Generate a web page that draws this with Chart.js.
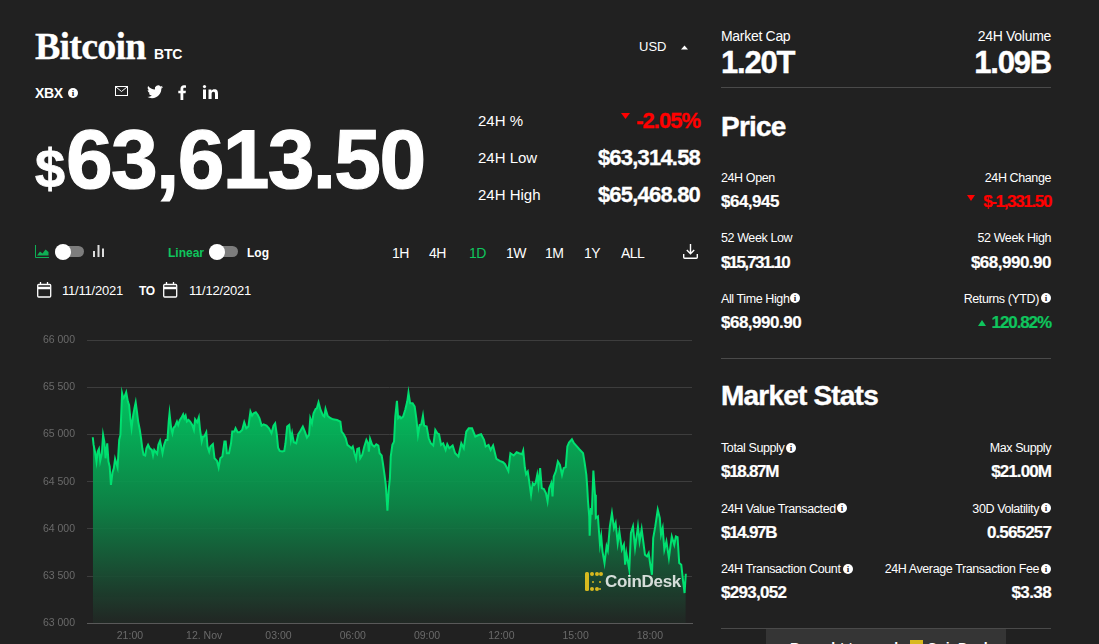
<!DOCTYPE html>
<html>
<head>
<meta charset="utf-8">
<title>Bitcoin BTC</title>
<script src="https://cdn.jsdelivr.net/npm/chart.js@4"></script>
<style>
  html, body { margin: 0; padding: 0; background: #212121; overflow: hidden; }
  body { width: 1099px; height: 644px; position: relative; color: #fff; font-family: "Liberation Sans", Arial, sans-serif; }
  .t { position: absolute; white-space: nowrap; line-height: 1; }
  .r { text-align: right; }
  .lab { font-size: 12.5px; letter-spacing: -0.4px; }
  .top { font-size: 14px; letter-spacing: -0.3px; }
  .val { font-size: 17px; font-weight: bold; letter-spacing: -0.5px; -webkit-text-stroke: 0.2px; }
  .sub { font-size: 22px; font-weight: bold; letter-spacing: -0.8px; -webkit-text-stroke: 0.3px; }
  .mid { font-size: 15px; }
  .rng { font-size: 14px; letter-spacing: -0.5px; }
  .big { font-size: 31px; font-weight: bold; letter-spacing: -1.2px; -webkit-text-stroke: 0.4px; }
  .head { font-size: 28px; font-weight: bold; letter-spacing: -0.8px; -webkit-text-stroke: 0.4px; }
  .red { color: #ff0000; }
  .grn { color: #0fc55d; }
  .hr { position: absolute; height: 1px; background: #4a4a4a; left: 721px; width: 330px; }
  svg { position: absolute; overflow: visible; }
  #wrap { position: absolute; left: 0; top: 322px; width: 699px; height: 322px; }
  .i { position: absolute; width: 10px; height: 10px; border-radius: 50%; background: #fff; color: #212121; font: bold 9px/10px "Liberation Serif", serif; text-align: center; }
  .knob { position: absolute; width: 16px; height: 16px; border-radius: 50%; background: #fff; }
  .track { position: absolute; width: 29px; height: 11px; border-radius: 6px; background: #7d7d7d; }
</style>
</head>
<body>

<div class="t" style="left:35px;top:27px;font:bold 38px/1 'Liberation Serif',serif;letter-spacing:-0.8px;-webkit-text-stroke:0.3px">Bitcoin</div>
<div class="t" style="left:154px;top:47px;font-size:14px;font-weight:bold;letter-spacing:-0.2px">BTC</div>
<div class="t" style="left:35px;top:86px;font-size:14px;font-weight:bold;letter-spacing:-0.4px">XBX</div>
<div class="i" style="left:68px;top:88px">i</div>

<svg style="left:115px;top:86px" width="13" height="11"><rect x=".5" y=".5" width="12" height="9" fill="none" stroke="#fff"/><path d="M1 1l5.500 4.500L12 1" fill="none" stroke="#fff"/></svg>
<svg style="left:147px;top:85px" width="16" height="14" viewBox="0 0 24 20"><path fill="#fff" d="M24 2.400c-.9.4-1.800.7-2.800.8 1-.6 1.800-1.600 2.200-2.700-1 .6-2 1-3.100 1.200A4.900 4.900 0 0 0 11.900 6.200C7.800 6 4.200 4 1.700.9c-1.300 2.200-.7 5.100 1.500 6.600-.8 0-1.600-.2-2.200-.6 0 2.300 1.700 4.400 4 4.900-.7.2-1.500.2-2.200.1.600 2 2.500 3.400 4.600 3.400A9.900 9.900 0 0 1 0 17.300 14 14 0 0 0 7.500 19.500c9.100 0 14.300-7.700 14-14.600 1-.7 1.800-1.600 2.500-2.500z"/></svg>
<svg style="left:178px;top:85px" width="9" height="15" viewBox="0 0 9 15"><path fill="#fff" d="M2.500 15V8.300H.3V5.700h2.200V3.800C2.500 1.500 3.900.3 5.900.3c1 0 1.800.1 2.100.1v2.300H6.600c-1.100 0-1.300.5-1.300 1.300v1.700h2.600l-.3 2.600H5.300V15z"/></svg>
<svg style="left:203px;top:85px" width="16" height="14" viewBox="0 0 16 14"><rect x="0" y="4.500" width="3" height="9.500" fill="#fff"/><circle cx="1.500" cy="1.600" r="1.600" fill="#fff"/><path fill="#fff" d="M5.500 4.500h2.900v1.300c.5-.9 1.600-1.500 3-1.500 3 0 3.600 1.900 3.600 4.500V14h-3V9.300c0-1.100 0-2.500-1.500-2.500s-1.900 1.200-1.900 2.400V14H5.500z"/></svg>

<div class="t" style="left:35px;top:141px;font-size:54px;font-weight:bold;-webkit-text-stroke:0.8px">$</div>
<div class="t" style="left:66px;top:117px;font-size:84px;font-weight:bold;letter-spacing:-1.700px;-webkit-text-stroke:1.200px">63,613.50</div>

<div class="t" style="left:639px;top:40px;font-size:13px">USD</div>
<svg style="left:681px;top:45px" width="7" height="5"><path d="M0 4.500L3.500 .5 7 4.500z" fill="#fff"/></svg>

<div class="t mid" style="left:478px;top:113px">24H %</div>
<svg style="left:621px;top:113px" width="9" height="6"><path d="M0 0h9L4.500 6z" fill="#ff0000"/></svg>
<div class="t r red sub" style="right:399px;top:110px;letter-spacing:-1px">-2.05%</div>
<div class="t mid" style="left:478px;top:150px">24H Low</div>
<div class="t r sub" style="right:399px;top:147px">$63,314.58</div>
<div class="t mid" style="left:478px;top:187px">24H High</div>
<div class="t r sub" style="right:399px;top:184px">$65,468.80</div>

<svg style="left:35px;top:245px" width="14" height="13"><path d="M.5 0v12.500H14" fill="none" stroke="#0fb055"/><path d="M2 10.500l3-4 2.500 2 3-4 3 2.500v3.500z" fill="#0fb055"/></svg>
<div class="track" style="left:55px;top:246px"></div>
<div class="knob" style="left:55px;top:244px"></div>
<svg style="left:93px;top:245px" width="11" height="12"><rect x="0" y="6" width="2" height="6" fill="#ddd"/><rect x="4.500" y="0" width="2" height="12" fill="#ddd"/><rect x="9" y="3.500" width="2" height="8.500" fill="#ddd"/></svg>
<div class="t grn" style="left:168px;top:247px;font-size:12px;font-weight:bold">Linear</div>
<div class="track" style="left:209px;top:246px"></div>
<div class="knob" style="left:209px;top:244px"></div>
<div class="t" style="left:247px;top:247px;font-size:12px;font-weight:bold">Log</div>

<div id="ranges"></div>
<svg style="left:683px;top:244px" width="15" height="15" fill="none" stroke="#fff" stroke-width="1.400"><path d="M7.500 0v9.500M3.800 6l3.700 3.700L11.200 6M.7 10v3.300q0 1 1 1h11.600q1 0 1-1V10"/></svg>

<svg style="left:37px;top:282px" width="14" height="16" fill="none" stroke="#fff" stroke-width="1.300"><rect x=".7" y="2.500" width="13" height="12.500" rx="1"/><path d="M3.500 0v3M10.500 0v3"/><path d="M1 6h12" stroke-width="2.500"/></svg>
<div class="t" style="left:62px;top:284px;font-size:13px;letter-spacing:-0.2px">11/11/2021</div>
<div class="t" style="left:139px;top:285px;font-size:12px;font-weight:bold;letter-spacing:-0.4px">TO</div>
<svg style="left:163px;top:282px" width="14" height="16" fill="none" stroke="#fff" stroke-width="1.300"><rect x=".7" y="2.500" width="13" height="12.500" rx="1"/><path d="M3.500 0v3M10.500 0v3"/><path d="M1 6h12" stroke-width="2.500"/></svg>
<div class="t" style="left:189px;top:284px;font-size:13px;letter-spacing:-0.2px">11/12/2021</div>

<div id="wrap"><canvas id="grafico"></canvas></div>

<svg style="left:585px;top:572px" width="18" height="20" fill="#d8b91f"><rect x="0" y="0" width="4" height="19" rx="1.500"/><circle cx="7" cy="2" r="2"/><circle cx="12" cy="2" r="2"/><circle cx="16" cy="2" r="2"/><circle cx="7" cy="17" r="2"/><circle cx="12" cy="17" r="2"/><circle cx="8" cy="10" r="1"/><circle cx="15" cy="10" r="1"/><circle cx="15" cy="17" r="1"/></svg>
<div class="t" style="left:605px;top:573px;font-size:17px;font-weight:bold;letter-spacing:-0.300px;color:rgba(255,255,255,.82)">CoinDesk</div>

<div class="t top" style="left:721px;top:29px">Market Cap</div>
<div class="t top r" style="right:48px;top:29px">24H Volume</div>
<div class="t big" style="left:721px;top:47px">1.20T</div>
<div class="t big r" style="right:48px;top:47px">1.09B</div>
<div class="hr" style="top:87px"></div>

<div class="t head" style="left:721px;top:113px">Price</div>

<div class="t lab" style="left:721px;top:172px">24H Open</div>
<div class="t val" style="left:721px;top:193px">$64,945</div>
<div class="t lab r" style="right:48px;top:172px">24H Change</div>
<svg style="left:967px;top:195px" width="8" height="6"><path d="M0 0h8L4 6z" fill="#ff0000"/></svg>
<div class="t val r red" style="right:48px;top:193px;letter-spacing:-1.350px">$-1,331.50</div>

<div class="t lab" style="left:721px;top:232px">52 Week Low</div>
<div class="t val" style="left:721px;top:254px;letter-spacing:-1.700px">$15,731.10</div>
<div class="t lab r" style="right:48px;top:232px">52 Week High</div>
<div class="t val r" style="right:48px;top:254px">$68,990.90</div>

<div class="t lab" style="left:721px;top:293px">All Time High</div>
<div class="i" style="left:790px;top:293px">i</div>
<div class="t val" style="left:721px;top:314px">$68,990.90</div>
<div class="t lab r" style="right:60px;top:293px">Returns (YTD)</div>
<div class="i" style="left:1041px;top:293px">i</div>
<svg style="left:978px;top:320px" width="8" height="6"><path d="M0 6h8L4 0z" fill="#0fc55d"/></svg>
<div class="t val r grn" style="right:48px;top:314px;letter-spacing:-1.100px">120.82%</div>

<div class="hr" style="top:358px"></div>

<div class="t head" style="left:721px;top:382px">Market Stats</div>

<div class="t lab" style="left:721px;top:442px">Total Supply</div>
<div class="i" style="left:786px;top:443px">i</div>
<div class="t val" style="left:721px;top:463px;letter-spacing:-1.300px">$18.87M</div>
<div class="t lab r" style="right:48px;top:442px">Max Supply</div>
<div class="t val r" style="right:48px;top:463px;letter-spacing:-0.900px">$21.00M</div>

<div class="t lab" style="left:721px;top:503px">24H Value Transacted</div>
<div class="i" style="left:837px;top:503px">i</div>
<div class="t val" style="left:721px;top:524px;letter-spacing:-1.300px">$14.97B</div>
<div class="t lab r" style="right:60px;top:503px">30D Volatility</div>
<div class="i" style="left:1041px;top:503px">i</div>
<div class="t val r" style="right:48px;top:524px;letter-spacing:-0.850px">0.565257</div>

<div class="t lab" style="left:721px;top:563px">24H Transaction Count</div>
<div class="i" style="left:843px;top:564px">i</div>
<div class="t val" style="left:721px;top:584px;letter-spacing:-0.700px">$293,052</div>
<div class="t lab r" style="right:60px;top:563px">24H Average Transaction Fee</div>
<div class="i" style="left:1041px;top:564px">i</div>
<div class="t val r" style="right:48px;top:584px;letter-spacing:-0.600px">$3.38</div>

<div class="hr" style="top:628px"></div>
<div style="position:absolute;left:766px;top:629px;width:240px;height:15px;background:#353535"></div>
<div class="t" style="left:790px;top:641px;font-size:14px;font-weight:bold">Brought to you by</div>
<div style="position:absolute;left:910px;top:640px;width:13px;height:4px;background:#d8b91f"></div>
<div class="t" style="left:927px;top:641px;font-size:14px;font-weight:bold">CoinDesk</div>

<script>
const rangeLabels = ["1H", "4H", "1D", "1W", "1M", "1Y", "ALL"];
const rangeLefts = [392, 429, 469, 506, 545, 584, 621];
const yTicks = [63000, 63500, 64000, 64500, 65000, 65500, 66000];
const xTicks = [1260, 1440, 1620, 1800, 1980, 2160, 2340, 2520];
const xTickLabels = ["21:00", "12. Nov", "03:00", "06:00", "09:00", "12:00", "15:00", "18:00"];

// minutes counted from 00:00 on 11 Nov
const minutos = [
  1170,1172,1176,1179,1182,1185,1188,1192,1195,1198,1201,1205,1208,1211,1214,1218,1221,1224,1227,1230,
  1234,1237,1241,1244,1247,1251,1255,1258,1261,1264,1268,1271,1274,1277,1280,1284,1287,1290,1293,1297,
  1300,1304,1308,1313,1316,1319,1322,1326,1329,1333,1336,1339,1343,1347,1351,1354,1356,1360,1363,1366,
  1369,1374,1377,1381,1385,1389,1392,1395,1398,1402,1406,1411,1415,1418,1423,1427,1430,1434,1437,1440,
  1445,1448,1452,1455,1461,1465,1471,1475,1479,1484,1489,1492,1495,1500,1505,1508,1513,1516,1521,
  1526,1532,1537,1542,1547,1552,1556,1560,1565,1570,1574,1579,1584,1591,1597,1603,1608,1612,1616,1619,
  1623,1629,1634,1637,1641,1646,1650,1653,1657,1663,1668,1673,1679,1684,1689,1694,1697,1701,1705,1710,
  1713,1717,1722,1728,1731,1734,1739,1744,1752,1762,1770,1773,1778,1783,1787,1792,1797,1800,1804,1808,
  1811,1815,1818,1823,1828,1833,1837,1839,1842,1847,1852,1857,1862,1865,1870,1873,
  1877,1880,1884,1887,1890,1892,1896,1900,1903,1907,1910,1914,1917,1922,1927,1932,1935,1939,1945,1950,
  1954,1958,1962,1966,1970,1973,1979,1984,1989,1995,2000,2005,2009,2014,2019,2025,2029,2034,2042,2048,
  2056,2063,2069,2075,2081,2089,2097,2105,2111,2118,2122,2129,2134,2140,2148,2156,2164,2169,2177,2182,
  2190,2197,2203,2210,2213,2217,2220,2224,2227,2232,2236,2240,
  2243,2247,2250,2254,2258,2263,2268,2272,2276,2281,2284,2287,2292,2297,2302,2307,2311,2316,2320,2324,
  2331,2336,2342,2349,2358,2362,2366,2368,2370,2373,2374,2377,2379,2383,2387,2389,2394,2399,2402,2405,
  2410,2415,2418,2423,2428,2433,2437,2442,2446,2452,2457,2460,2463,2470,2474,2479,2484,2491,2495,2500,
  2508,2513,2517,2521,2525,2528,2533,2539,2544,2547,2551,2555,2560,2566,2573,2579,2583,2587,2591,2596,
  2600,2604,2607
];
const precios = [
  64972,64891,64802,64714,64820,64848,64721,64802,64997,64926,64749,64908,64714,64661,64467,64601,64643,64742,64696,64651,
  64944,64997,65438,65385,65402,65448,65350,65314,65173,65067,65208,65279,65342,65244,65138,65049,64961,64855,64785,64778,
  64855,64891,64855,64838,64778,64838,64820,64795,64891,64933,64873,64802,64891,64944,64944,65138,65226,65067,65014,65074,
  65085,65138,65102,65155,65180,65215,65173,65201,65138,65155,65138,65102,65049,65162,65131,65184,65049,64926,64979,64979,
  65025,64873,64820,64873,64898,64749,64721,64651,64749,64767,64926,64926,64802,64802,64908,65032,65032,65067,65025,
  65025,65049,65131,65067,65085,65244,65201,65226,65237,65208,65173,65095,65109,65095,65067,65014,65095,65120,64996,64862,
  64827,64820,64827,64908,65085,65102,64944,65014,64919,64908,65004,65039,65085,65032,64968,64996,65173,65120,65226,65272,
  65279,65342,65261,65201,65191,65272,65201,65180,65162,65155,65138,65032,65004,64961,64891,64873,64855,64873,64802,64742,
  64848,64855,64749,64785,64873,64944,64908,64820,64954,64891,64873,64898,64884,64802,64778,64696,
  64573,64467,64192,64414,64538,64767,64891,64926,65191,65357,65173,65191,65173,65191,65261,65350,65445,65332,65332,65297,
  65173,64997,65102,65109,65201,65095,65085,64961,64908,64884,65049,65014,65004,64891,64908,64838,64898,64855,64884,64802,
  64767,64908,64855,65032,65067,65067,64979,64996,65004,64944,64873,64891,64838,64884,64742,64721,64707,64686,64615,64802,
  64778,64813,64802,64792,64831,64651,64580,64608,64520,64361,64485,64467,
  64485,64573,64468,64644,64432,64422,64379,64291,64432,64485,64344,64556,64609,64715,64679,64573,64644,64655,64874,64916,
  64951,64909,64880,64845,64803,64697,64573,64450,64291,64132,63927,64220,64150,64619,64362,64115,64132,63832,63920,63762,
  63638,63815,63772,64026,64167,64009,64062,63850,63973,63779,63832,63620,63744,63567,63956,64026,63797,64026,63867,63998,
  63726,63709,63744,63620,63514,63903,64026,64203,64115,63938,64009,63779,63867,63691,63920,63832,63920,63913,63638,63620,
  63462,63320,63525
];

rangeLabels.forEach((r, i) => {
  const el = document.createElement("div");
  el.className = "t rng" + (r === "1D" ? " grn" : "");
  el.style.left = rangeLefts[i] + "px";
  el.style.top = "246px";
  el.textContent = r;
  document.getElementById("ranges").appendChild(el);
});

const puntos = minutos.map((m, i) => ({ x: m, y: precios[i] }));

function rellenoVerde(context) {
  const area = context.chart.chartArea;
  if (!area) return "rgba(0,200,100,0.5)";
  const g = context.chart.ctx.createLinearGradient(0, area.top + 50, 0, area.bottom - 4);
  g.addColorStop(0, "rgba(0,206,100,0.94)");
  g.addColorStop(0.5, "rgba(12,138,73,0.92)");
  g.addColorStop(0.81, "rgba(26,77,51,0.92)");
  g.addColorStop(1, "rgba(33,42,37,0.9)");
  return g;
}

const canvas = document.getElementById("grafico");
canvas.width = 699;
canvas.height = 322;

new Chart(canvas, {
  type: "line",
  data: {
    datasets: [{
      data: puntos,
      borderColor: "#00e070",
      borderWidth: 2,
      pointRadius: 0,
      tension: 0,
      fill: "origin",
      backgroundColor: rellenoVerde
    }]
  },
  options: {
    responsive: false,
    animation: false,
    layout: { padding: { top: 5, right: 7, left: 0, bottom: 0 } },
    plugins: { legend: { display: false }, tooltip: { enabled: false } },
    scales: {
      x: {
        type: "linear",
        min: 1156,
        max: 2622,
        afterFit: (s) => { s.height = 20.8; },
        afterBuildTicks: (s) => { s.ticks = xTicks.map(v => ({ value: v })); },
        grid: { display: false },
        border: { color: "#5a5a5a", width: 1 },
        ticks: {
          autoSkip: false,
          maxRotation: 0,
          padding: -1.5,
          color: "#6a6a6a",
          font: { family: "Liberation Sans", size: 10.5 },
          callback: (v) => xTickLabels[xTicks.indexOf(v)]
        }
      },
      y: {
        type: "linear",
        min: 63000,
        max: 66000,
        afterFit: (s) => { s.width = 87; },
        afterBuildTicks: (s) => { s.ticks = yTicks.map(v => ({ value: v })); },
        grid: { color: "#3d3d3d", lineWidth: 1, drawTicks: false },
        border: { display: false },
        ticks: {
          padding: 12,
          color: "#6a6a6a",
          font: { family: "Liberation Sans", size: 10.5 },
          callback: (v) => String(v).slice(0, 2) + " " + String(v).slice(2)
        }
      }
    }
  }
});
</script>
</body>
</html>
